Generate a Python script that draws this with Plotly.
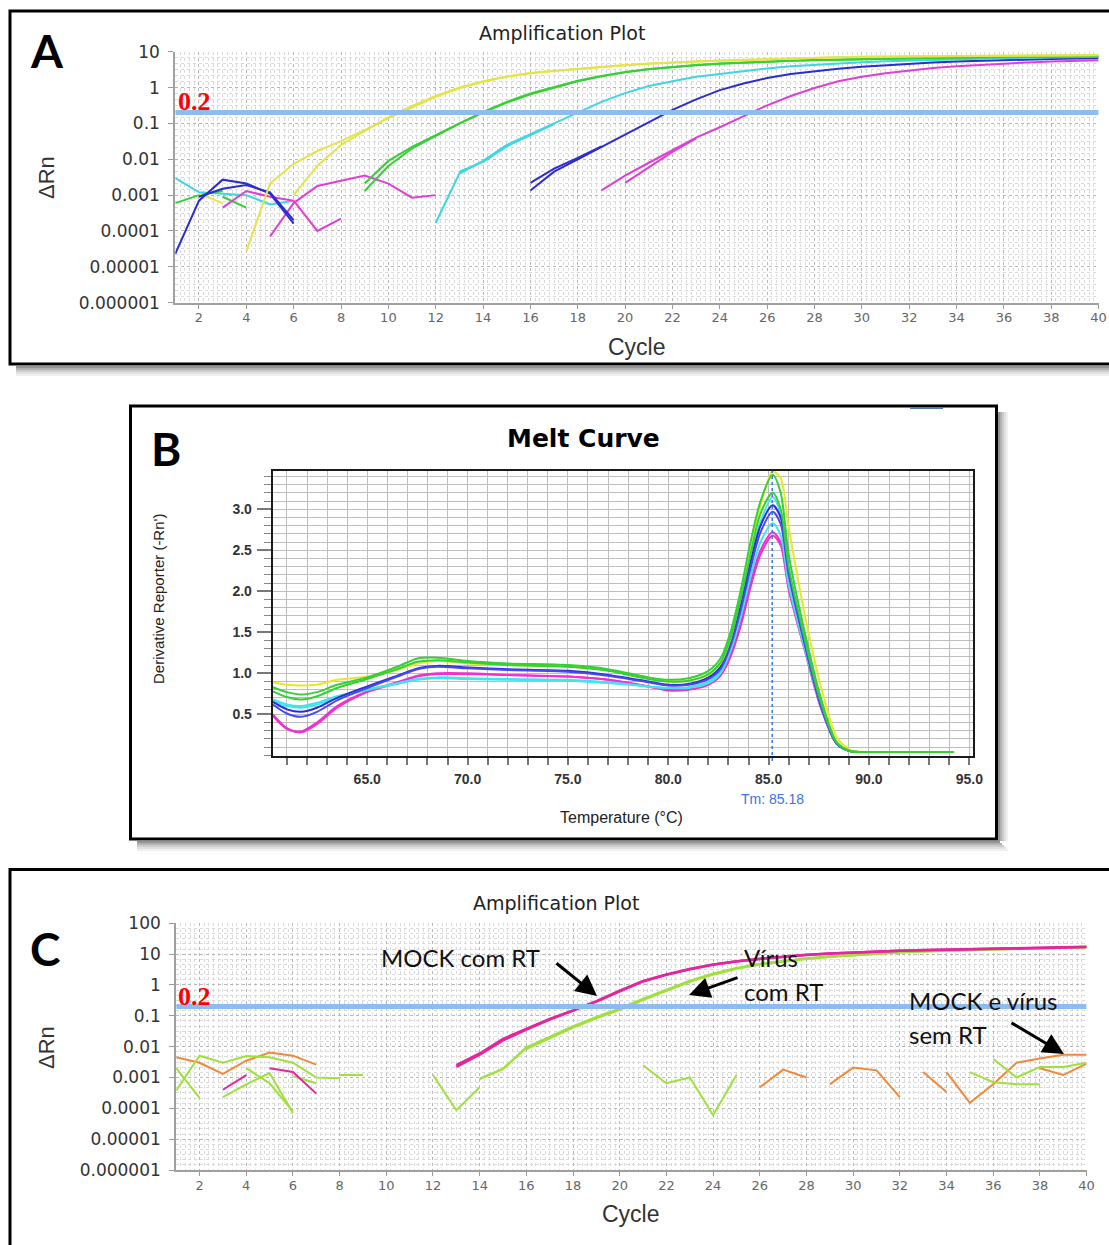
import plotly.graph_objects as go

W, H = 1109, 1245


def px(x):
    """horizontal pixel -> paper fraction"""
    return x / W


def py(y):
    """vertical pixel (from top) -> paper fraction"""
    return 1 - y / H


THRESHOLD = 0.2
TM = 85.18

# ---------------- Panel A: amplification plot, ΔRn per cycle ----------------
# each run: (first cycle, values of consecutive cycles)
A_YELLOW_1 = (4, [2.7e-5, 0.0021, 0.0075, 0.017, 0.032, 0.065, 0.14, 0.28, 0.55, 0.95,
                  1.45, 2.0, 2.5, 2.9, 3.3, 3.7, 4.2, 4.6, 5.0, 5.3, 5.6, 5.9, 6.2, 6.5,
                  6.8, 7.0, 7.2, 7.3, 7.4, 7.5, 7.6, 7.7, 7.8, 7.8, 7.9, 8.0, 8.0])
A_YELLOW_2 = (6, [0.001, 0.0066, 0.025, 0.06, 0.15, 0.31, 0.58, 1.0, 1.5, 2.05, 2.55, 2.95,
                  3.35, 3.75, 4.25, 4.65, 5.05, 5.35, 5.65, 5.95, 6.25, 6.55, 6.85, 7.05,
                  7.25, 7.35, 7.45, 7.55, 7.65, 7.75, 7.85, 7.9, 7.95, 8.05, 8.1])
A_YELLOW_3 = (2, [0.0011, 0.0006])
A_GREEN_1 = (9, [0.0021, 0.009, 0.022, 0.047, 0.1, 0.2, 0.38, 0.65, 1.0, 1.5, 2.05, 2.65,
                 3.25, 3.75, 4.2, 4.6, 4.95, 5.25, 5.55, 5.8, 6.0, 6.2, 6.4, 6.55, 6.7,
                 6.85, 7.0, 7.1, 7.2, 7.3, 7.4, 7.5])
A_GREEN_2 = (9, [0.0013, 0.0065, 0.02, 0.045, 0.098, 0.21, 0.4, 0.68, 1.05, 1.55, 2.1, 2.7,
                 3.3, 3.8, 4.25, 4.65, 5.0, 5.3, 5.6, 5.85, 6.05, 6.25, 6.45, 6.6, 6.75,
                 6.9, 7.05, 7.15, 7.25, 7.35, 7.45, 7.55])
A_GREEN_3 = (1, [0.0006, 0.001, 0.0013])
A_GREEN_4 = (3, [0.0009, 0.00045])
A_CYAN_1 = (1, [0.003, 0.0012, 0.0011, 0.001, 0.00055, 0.0007])
A_CYAN_2 = (12, [0.00017, 0.004, 0.009, 0.025, 0.05, 0.1, 0.2, 0.4, 0.7, 1.1, 1.5, 2.0, 2.4,
                 2.9, 3.4, 3.9, 4.3, 4.7, 5.1, 5.4, 5.7, 6.0, 6.2, 6.4, 6.6, 6.8, 7.0, 7.1, 7.2])
A_CYAN_3 = (13, [0.0045, 0.0085, 0.023, 0.048, 0.095])
A_BLUE_1 = (1, [2.3e-5, 0.0007, 0.0027, 0.0021, 0.0011, 0.00016])
A_BLUE_2 = (2, [0.0009, 0.0015, 0.0019, 0.0012, 0.0002])
A_BLUE_3 = (16, [0.00135, 0.0045, 0.01, 0.022, 0.05, 0.11, 0.24, 0.47, 0.85, 1.3, 1.85, 2.4,
                 2.9, 3.35, 3.8, 4.2, 4.6, 5.0, 5.3, 5.6, 5.9, 6.1, 6.3, 6.5, 6.7])
A_BLUE_4 = (16, [0.0022, 0.0055, 0.011, 0.023])
A_MAGENTA_1 = (3, [0.00045, 0.0013, 0.0009, 0.0007])
A_MAGENTA_2 = (5, [0.00007, 0.0006, 0.0018, 0.0025, 0.0035, 0.0021, 0.00085, 0.001])
A_MAGENTA_3 = (6, [0.0007, 0.0001, 0.00022])
A_MAGENTA_4 = (19, [0.00135, 0.0035, 0.008, 0.018, 0.04, 0.078, 0.155, 0.32, 0.58, 0.97, 1.5,
                    2.0, 2.5, 3.0, 3.5, 3.9, 4.3, 4.7, 5.0, 5.3, 5.6, 5.8])
A_MAGENTA_5 = (20, [0.0022, 0.006, 0.016, 0.038])

A_COLORS = {"yellow": "#e4e44a", "green": "#36d036", "cyan": "#3cd6e4",
            "blue": "#2c2cd4", "magenta": "#e03ed6"}
A_RUNS = [
    ("cyan", A_CYAN_1), ("green", A_GREEN_3), ("green", A_GREEN_4), ("yellow", A_YELLOW_3),
    ("magenta", A_MAGENTA_1), ("magenta", A_MAGENTA_2), ("magenta", A_MAGENTA_3),
    ("blue", A_BLUE_1), ("blue", A_BLUE_2),
    ("magenta", A_MAGENTA_4), ("magenta", A_MAGENTA_5),
    ("blue", A_BLUE_3), ("blue", A_BLUE_4),
    ("cyan", A_CYAN_2), ("cyan", A_CYAN_3),
    ("green", A_GREEN_1), ("green", A_GREEN_2),
    ("yellow", A_YELLOW_1), ("yellow", A_YELLOW_2),
]
A_YTICK_VALS = [1e-6, 1e-5, 1e-4, 1e-3, 1e-2, 1e-1, 1, 10]
A_YTICK_TEXT = ["0.000001", "0.00001", "0.0001", "0.001", "0.01", "0.1", "1", "10"]

# ---------------- Panel B: melt curve, derivative reporter vs temperature ----------------
B_TEMP = [60.3, 61.0, 61.7, 62.5, 63.5, 65.0, 66.5, 67.5, 68.5, 70.0, 72.0, 75.0, 77.0, 79.0,
          80.0, 81.0, 82.0, 82.6, 83.1, 83.6, 84.1, 84.6, 85.2, 85.6, 86.0, 86.8, 87.6, 88.4,
          89.1, 90.0, 92.0, 94.2]
B_YELLOW = [0.89, 0.86, 0.85, 0.86, 0.92, 0.96, 1.04, 1.12, 1.15, 1.12, 1.10, 1.08, 1.04, 0.95,
            0.90, 0.91, 0.98, 1.12, 1.42, 1.92, 2.50, 3.05, 3.46, 3.38, 2.78, 1.72, 0.85, 0.22,
            0.06, 0.04, 0.04, 0.04]
B_GREEN_1 = [0.83, 0.77, 0.74, 0.77, 0.86, 0.95, 1.08, 1.18, 1.19, 1.15, 1.12, 1.10, 1.05, 0.95,
             0.92, 0.94, 1.03, 1.18, 1.50, 2.00, 2.60, 3.10, 3.42, 3.20, 2.45, 1.50, 0.70, 0.16,
             0.05, 0.04, 0.04, 0.04]
B_GREEN_2 = [0.78, 0.71, 0.68, 0.72, 0.82, 0.93, 1.05, 1.14, 1.16, 1.13, 1.10, 1.08, 1.03, 0.93,
             0.90, 0.91, 0.99, 1.13, 1.43, 1.90, 2.45, 2.95, 3.20, 3.00, 2.30, 1.42, 0.65, 0.15,
             0.05, 0.04, 0.04, 0.04]
B_CYAN_1 = [0.68, 0.62, 0.60, 0.64, 0.72, 0.80, 0.87, 0.92, 0.94, 0.93, 0.92, 0.91, 0.88, 0.84,
            0.82, 0.83, 0.90, 1.03, 1.33, 1.80, 2.38, 2.85, 3.15, 2.95, 2.25, 1.38, 0.62, 0.14,
            0.05, 0.04, 0.04, 0.04]
B_CYAN_2 = [0.66, 0.60, 0.58, 0.62, 0.70, 0.80, 0.88, 0.93, 0.95, 0.94, 0.93, 0.92, 0.89, 0.84,
            0.82, 0.82, 0.88, 1.00, 1.27, 1.68, 2.18, 2.60, 2.83, 2.68, 2.08, 1.30, 0.60, 0.14,
            0.05, 0.04, 0.04, 0.04]
B_BLUE_1 = [0.65, 0.56, 0.53, 0.58, 0.70, 0.84, 0.97, 1.06, 1.09, 1.07, 1.05, 1.03, 0.98, 0.90,
            0.86, 0.87, 0.95, 1.08, 1.38, 1.82, 2.35, 2.80, 3.05, 2.90, 2.25, 1.38, 0.62, 0.14,
            0.05, 0.04, 0.04, 0.04]
B_BLUE_2 = [0.62, 0.51, 0.47, 0.53, 0.67, 0.82, 0.96, 1.05, 1.08, 1.06, 1.04, 1.02, 0.97, 0.89,
            0.85, 0.86, 0.93, 1.05, 1.33, 1.76, 2.28, 2.72, 2.97, 2.82, 2.20, 1.35, 0.60, 0.14,
            0.05, 0.04, 0.04, 0.04]
B_MAGENTA_1 = [0.50, 0.33, 0.28, 0.38, 0.58, 0.77, 0.88, 0.96, 0.99, 0.99, 0.98, 0.96, 0.92, 0.84,
               0.80, 0.81, 0.87, 0.98, 1.22, 1.60, 2.10, 2.50, 2.72, 2.60, 2.05, 1.30, 0.60, 0.14,
               0.05, 0.04, 0.04, 0.04]
B_MAGENTA_2 = [0.48, 0.32, 0.29, 0.40, 0.60, 0.78, 0.89, 0.97, 1.00, 1.00, 0.98, 0.96, 0.92, 0.84,
               0.79, 0.80, 0.86, 0.97, 1.20, 1.57, 2.05, 2.45, 2.68, 2.56, 2.02, 1.28, 0.58, 0.14,
               0.05, 0.04, 0.04, 0.04]
B_CURVES = [
    ("#f030d0", B_MAGENTA_1), ("#f030d0", B_MAGENTA_2),
    ("#40e4ec", B_CYAN_1), ("#40e4ec", B_CYAN_2),
    ("#2a2ae0", B_BLUE_1), ("#4848f0", B_BLUE_2),
    ("#e8e828", B_YELLOW),
    ("#34d034", B_GREEN_1), ("#34d034", B_GREEN_2),
]
B_YTICKS = [0.5, 1.0, 1.5, 2.0, 2.5, 3.0]

# ---------------- Panel C: amplification plot with / without RT ----------------
C_MAGENTA_1 = (13, [0.0025, 0.006, 0.018, 0.038, 0.08, 0.15, 0.3, 0.65, 1.35, 2.2, 3.3, 4.6,
                    5.9, 7.1, 8.3, 9.5, 10.5, 11.4, 12.2, 12.9, 13.5, 14.0, 14.5, 15.0, 15.5,
                    16.0, 16.6, 17.2])
C_MAGENTA_2 = (13, [0.0022, 0.0055, 0.016, 0.036, 0.075, 0.145, 0.29, 0.62, 1.3, 2.15, 3.25,
                    4.5, 5.8, 7.0, 8.2, 9.4, 10.4, 11.3, 12.1, 12.8, 13.4, 13.9, 14.4, 14.9,
                    15.4, 15.9, 16.5, 17.0])
C_GREEN_1 = (14, [0.0009, 0.0019, 0.0093, 0.02, 0.045, 0.09, 0.17, 0.35, 0.7, 1.35, 2.3, 3.5,
                  4.8, 6.0, 7.2, 8.4, 9.5, 10.6, 11.6, 12.4, 13.1, 13.8, 14.4, 15.0, 15.6,
                  16.1, 16.6])
C_GREEN_2 = (16, [0.0085, 0.019, 0.042, 0.085, 0.16, 0.33, 0.66, 1.28, 2.2, 3.4, 4.7, 5.9,
                  7.1, 8.3, 9.4, 10.5, 11.5, 12.3, 13.0, 13.7, 14.3, 14.9, 15.5, 16.0, 16.5])
C_ORANGE_1 = (1, [0.0045, 0.003, 0.0013, 0.0035, 0.0064, 0.0051, 0.0026])
C_ORANGE_2 = (26, [0.00048, 0.0018, 0.001])
C_ORANGE_3 = (29, [0.0006, 0.0021, 0.0017, 0.00023])
C_ORANGE_4 = (33, [0.0015, 0.00034])
C_ORANGE_5 = (34, [0.0015, 0.00015, 0.0006, 0.003, 0.0041, 0.0055, 0.0055])
C_ORANGE_6 = (38, [0.002, 0.0012, 0.0028])
C_LIME_1 = (1, [0.002, 0.00022])
C_LIME_2 = (1, [0.00038, 0.0051, 0.003, 0.005, 0.0045, 0.003, 0.001, 0.00095])
C_LIME_3 = (3, [0.00023, 0.0006, 0.0014, 0.00007])
C_LIME_4 = (4, [0.002, 0.00065, 0.00008])
C_LIME_5 = (6, [0.0011, 0.00065])
C_LIME_6 = (8, [0.0012, 0.0012])
C_LIME_7 = (12, [0.0012, 0.000087, 0.00048])
C_LIME_8 = (21, [0.0025, 0.00065, 0.001, 0.00006, 0.0012])
C_LIME_9 = (35, [0.0015, 0.0007, 0.0006, 0.0006])
C_LIME_10 = (36, [0.004, 0.001, 0.0022, 0.0022, 0.003])
C_PINK_1 = (3, [0.0004, 0.0012])
C_PINK_2 = (5, [0.002, 0.0015, 0.0003])

C_COLORS = {"magenta": "#e4259e", "lime": "#9fe03c", "orange": "#f0893a"}
C_RUNS = [
    ("orange", C_ORANGE_1, 2), ("orange", C_ORANGE_2, 2), ("orange", C_ORANGE_3, 2),
    ("orange", C_ORANGE_4, 2), ("orange", C_ORANGE_5, 2), ("orange", C_ORANGE_6, 2),
    ("lime", C_LIME_1, 2), ("lime", C_LIME_2, 2), ("lime", C_LIME_3, 2), ("lime", C_LIME_4, 2),
    ("lime", C_LIME_5, 2), ("lime", C_LIME_6, 2), ("lime", C_LIME_7, 2), ("lime", C_LIME_8, 2),
    ("lime", C_LIME_9, 2), ("lime", C_LIME_10, 2),
    ("magenta", C_PINK_1, 2), ("magenta", C_PINK_2, 2),
    ("lime", C_GREEN_1, 2.5), ("lime", C_GREEN_2, 2.5),
    ("magenta", C_MAGENTA_1, 2.5), ("magenta", C_MAGENTA_2, 2.5),
]
C_YTICK_VALS = [1e-6, 1e-5, 1e-4, 1e-3, 1e-2, 1e-1, 1, 10, 100]
C_YTICK_TEXT = ["0.000001", "0.00001", "0.0001", "0.001", "0.01", "0.1", "1", "10", "100"]

CYCLE_TICKS = list(range(2, 41, 2))


def run_xy(run):
    start, vals = run
    return list(range(start, start + len(vals))), vals


fig = go.Figure()

for color, run in A_RUNS:
    x, y = run_xy(run)
    fig.add_trace(go.Scatter(x=x, y=y, mode="lines", xaxis="x", yaxis="y",
                             line=dict(color=A_COLORS[color], width=2),
                             hoverinfo="skip", showlegend=False))
fig.add_trace(go.Scatter(x=[1, 40], y=[THRESHOLD, THRESHOLD], mode="lines", xaxis="x", yaxis="y",
                         line=dict(color="#8cbcf2", width=5), hoverinfo="skip", showlegend=False))

for color, vals in B_CURVES:
    fig.add_trace(go.Scatter(x=B_TEMP, y=vals, mode="lines", xaxis="x2", yaxis="y2",
                             line=dict(color=color, width=2, shape="spline", smoothing=0.8),
                             hoverinfo="skip", showlegend=False))

for color, run, width in C_RUNS:
    x, y = run_xy(run)
    fig.add_trace(go.Scatter(x=x, y=y, mode="lines", xaxis="x3", yaxis="y3",
                             line=dict(color=C_COLORS[color], width=width),
                             hoverinfo="skip", showlegend=False))
fig.add_trace(go.Scatter(x=[1, 40], y=[THRESHOLD, THRESHOLD], mode="lines", xaxis="x3", yaxis="y3",
                         line=dict(color="#8cbcf2", width=5), hoverinfo="skip", showlegend=False))


def log_minor(lo, hi, steps=6):
    vals = []
    for e in range(lo, hi):
        for k in range(1, steps):
            vals.append(10 ** (e + k / steps))
    return vals


def cycle_axis(x0, x1, anchor):
    return dict(domain=[px(x0), px(x1)], anchor=anchor, range=[1, 40], automargin=False,
                tickmode="array", tickvals=CYCLE_TICKS,
                ticks="outside", ticklen=4, tickcolor="#999", tickwidth=1,
                showline=True, linecolor="#a0a0a0", linewidth=2,
                showgrid=True, gridcolor="#b8b8b8", griddash="dot", gridwidth=1,
                minor=dict(tickmode="linear", tick0=0, dtick=0.2, showgrid=True,
                           gridcolor="#dadada", griddash="dot", gridwidth=1),
                tickfont=dict(family="DejaVu Sans", size=13, color="#666"),
                ticklabelstandoff=-2, zeroline=False, fixedrange=True)


def drn_axis(y_top, y_bot, anchor, lo, hi, vals, text):
    return dict(domain=[py(y_bot), py(y_top)], anchor=anchor, type="log", range=[lo, hi],
                automargin=False, tickmode="array", tickvals=vals, ticktext=text,
                ticks="outside", ticklen=5, tickcolor="#999", tickwidth=1,
                showline=True, linecolor="#a0a0a0", linewidth=2,
                showgrid=True, gridcolor="#b8b8b8", griddash="dot", gridwidth=1,
                minor=dict(tickmode="array", tickvals=log_minor(lo, hi), showgrid=True,
                           gridcolor="#dadada", griddash="dot", gridwidth=1),
                tickfont=dict(family="DejaVu Sans", size=17, color="#333"),
                ticklabelstandoff=5, zeroline=False, fixedrange=True)


B_GRID = "#bdbdbd"
layout = dict(
    width=W, height=H, autosize=False,
    margin=dict(l=0, r=0, t=0, b=0, pad=0, autoexpand=False),
    paper_bgcolor="white", plot_bgcolor="white",
    showlegend=False,
    xaxis=cycle_axis(175.3, 1098.6, "y"),
    yaxis=drn_axis(51.7, 302.7, "x", -6, 1, A_YTICK_VALS, A_YTICK_TEXT),
    xaxis2=dict(domain=[px(272.7), px(972.7)], anchor="y2", range=[60.29, 95.17],
                automargin=False, tickmode="linear", tick0=0, dtick=5, tickformat=".1f",
                ticks="outside", ticklen=7, tickcolor="#777", tickwidth=1.5,
                showline=True, mirror=True, linecolor="#1a1a1a", linewidth=2,
                showgrid=True, gridcolor=B_GRID, gridwidth=1.2,
                minor=dict(tickmode="linear", tick0=0, dtick=1, ticks="outside", ticklen=7,
                           tickcolor="#777", tickwidth=1.5, showgrid=True,
                           gridcolor=B_GRID, gridwidth=1.2),
                tickfont=dict(family="Liberation Sans", size=14, color="#333", weight="bold"),
                ticklabelstandoff=2, zeroline=False, fixedrange=True),
    yaxis2=dict(domain=[py(755.7), py(470.7)], anchor="x2", range=[-0.005, 3.47],
                automargin=False, tickmode="array", tickvals=B_YTICKS, tickformat=".1f",
                ticks="outside", ticklen=14, tickcolor="#777", tickwidth=1.5,
                showline=True, mirror=True, linecolor="#1a1a1a", linewidth=2,
                showgrid=True, gridcolor=B_GRID, gridwidth=1.2,
                minor=dict(tickmode="linear", tick0=0, dtick=0.1, ticks="outside", ticklen=7,
                           tickcolor="#888", tickwidth=1.2, showgrid=True,
                           gridcolor=B_GRID, gridwidth=1.2),
                tickfont=dict(family="Liberation Sans", size=14, color="#333", weight="bold"),
                ticklabelstandoff=2, zeroline=False, fixedrange=True),
    xaxis3=cycle_axis(176.2, 1086.6, "y3"),
    yaxis3=drn_axis(923.3, 1170.0, "x3", -6, 2, C_YTICK_VALS, C_YTICK_TEXT),
)


def rect(x0, y0, x1, y1, **kw):
    return dict(type="rect", xref="paper", yref="paper",
                x0=px(x0), x1=px(x1), y0=py(y1), y1=py(y0), **kw)


shapes = []
SHADE = [0.42, 0.30, 0.20, 0.12, 0.06]
# panel frames with soft drop shadows
for i, op in enumerate(SHADE):
    shapes.append(rect(16, 366 + 2 * i, 1120, 368 + 2 * i,
                       fillcolor=f"rgba(0,0,0,{op})", line=dict(width=0), layer="below"))
    shapes.append(rect(137, 841 + 2 * i, 1000 + 2 * i, 843 + 2 * i,
                       fillcolor=f"rgba(0,0,0,{op})", line=dict(width=0), layer="below"))
    shapes.append(rect(998 + 2 * i, 412, 1000 + 2 * i, 841,
                       fillcolor=f"rgba(0,0,0,{op})", line=dict(width=0), layer="below"))
shapes.append(rect(10, 11, 1125, 364, line=dict(color="black", width=3), fillcolor="rgba(0,0,0,0)"))
shapes.append(rect(130.5, 406, 996.5, 839, line=dict(color="black", width=3), fillcolor="rgba(0,0,0,0)"))
shapes.append(rect(10, 869.5, 1125, 1260, line=dict(color="black", width=3), fillcolor="rgba(0,0,0,0)"))
shapes.append(dict(type="line", xref="paper", yref="paper", x0=px(910), x1=px(943),
                   y0=py(408), y1=py(408), line=dict(color="#5a7aa8", width=2)))
# melting temperature marker
shapes.append(dict(type="line", xref="x2", yref="paper", x0=TM, x1=TM,
                   y0=py(761), y1=py(470.7), layer="above",
                   line=dict(color="#3574e2", width=1.5, dash="dot")))
layout["shapes"] = shapes


def label(x, y, text, size, family="Liberation Sans", color="#222", weight="normal",
          angle=0, xanchor="center"):
    return dict(x=px(x), y=py(y), xref="paper", yref="paper", text=text, showarrow=False,
                xanchor=xanchor, yanchor="middle", textangle=angle,
                font=dict(family=family, size=size, color=color, weight=weight))


def arrow(tail, head):
    return dict(x=px(head[0]), y=py(head[1]), xref="paper", yref="paper",
                ax=tail[0] - head[0], ay=tail[1] - head[1], text="", showarrow=True,
                arrowhead=2, arrowsize=1.4, arrowwidth=3, arrowcolor="black", standoff=0)


thr = f"{THRESHOLD:g}"
annotations = [
    # panel A
    label(47, 50, "A", 46, family="Lato", color="black", weight="bold"),
    label(562, 33, "Amplification Plot", 19, family="DejaVu Sans", color="#222"),
    label(637, 347, "Cycle", 23, color="#333"),
    label(46, 178, "ΔRn", 22, color="#333", angle=-90),
    label(176, 102, thr, 26, family="Liberation Serif", color="#ff0000", weight="bold",
          xanchor="left"),
    # panel B
    label(166, 449, "B", 46, family="Lato", color="black", weight="bold"),
    label(583, 438, "Melt Curve", 25, family="DejaVu Sans", color="black", weight="bold"),
    label(158, 599, "Derivative Reporter (-Rn')", 15, color="#222", angle=-90),
    label(621, 817, "Temperature (°C)", 16, color="#222"),
    label(772, 799, f"Tm: {TM:.2f}", 14, color="#3574e2"),
    # panel C
    label(45, 948, "C", 46, family="Lato", color="black", weight="bold"),
    label(556, 903, "Amplification Plot", 19, family="DejaVu Sans", color="#222"),
    label(631, 1214, "Cycle", 23, color="#333"),
    label(46, 1048, "ΔRn", 22, color="#333", angle=-90),
    label(176, 996, thr, 26, family="Liberation Serif", color="#ff0000", weight="bold",
          xanchor="left"),
    label(379, 957, "MOCK com RT", 24, family="Lato", color="#111", xanchor="left"),
    label(742, 957, "Vírus", 24, family="Lato", color="#111", xanchor="left"),
    label(742, 991, "com RT", 24, family="Lato", color="#111", xanchor="left"),
    label(907, 1000, "MOCK e vírus", 24, family="Lato", color="#111", xanchor="left"),
    label(907, 1034, "sem RT", 24, family="Lato", color="#111", xanchor="left"),
    arrow((555, 962), (597, 996)),
    arrow((739, 977), (689, 995)),
    arrow((1010, 1022), (1064, 1054)),
]
layout["annotations"] = annotations

fig.update_layout(**layout)
fig.write_html("out.html")
